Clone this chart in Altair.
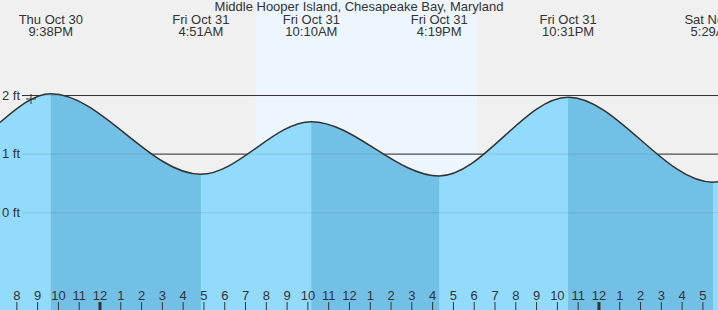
import altair as alt
import pandas as pd

title_text = "Middle Hooper Island, Chesapeake Bay, Maryland"

# tide curve points: hours since Fri Oct 31 00:00, height in ft
curve_t = [-4.81, -2.367, 4.85, 10.167, 16.317, 22.517, 29.483, 29.8]
curve_ft = [1.54, 2.03, 0.655, 1.553, 0.626, 1.97, 0.52, 0.53]

# high / low labels
ext_t = [-2.367, 4.85, 10.167, 16.317, 22.517, 29.483]
ext_day = ["Thu Oct 30", "Fri Oct 31", "Fri Oct 31", "Fri Oct 31", "Fri Oct 31", "Sat Nov 1"]
ext_time = ["9:38PM", "4:51AM", "10:10AM", "4:19PM", "10:31PM", "5:29AM"]

# falling (high -> low) periods
fall_start = [-2.367, 10.167, 22.517]
fall_end = [4.85, 16.317, 29.483]

daylight_start = [7.5]
daylight_end = [18.13]

hour_t = list(range(-4, 30))
hour_lbl = ["8", "9", "10", "11", "12", "1", "2", "3", "4", "5", "6", "7", "8", "9", "10", "11",
            "12", "1", "2", "3", "4", "5", "6", "7", "8", "9", "10", "11",
            "12", "1", "2", "3", "4", "5"]
midnights = [0, 24]

grid_ft = [0, 1, 2]
grid_lbl = ["0 ft", "1 ft", "2 ft"]
dark_grid_ft = [1, 2]

now_t = [-3.32]
now_ft = [1.94]

W, H = 718, 310
LIGHT = "#93dbfc"
DARK = "#72c0e5"
TXT = "#333333"
FONT = "Liberation Sans"
Y_BOTTOM = -1.66

xs = alt.Scale(domain=[-4.81, 29.726], nice=False, zero=False)
ys = alt.Scale(domain=[Y_BOTTOM, 3.63], nice=False, zero=False)

curve = pd.DataFrame({"t": curve_t, "ft": curve_ft})

day = alt.Chart(pd.DataFrame({"a": daylight_start, "b": daylight_end})).mark_rect(
    color="#edf6fe"
).encode(
    x=alt.X("a:Q", scale=xs, axis=None), x2="b:Q", y=alt.value(0), y2=alt.value(H)
)

dark_rules = alt.Chart(pd.DataFrame({"v": dark_grid_ft})).mark_rule(
    color=TXT, strokeWidth=1
).encode(y=alt.Y("v:Q", scale=ys, axis=None), x=alt.value(22), x2=alt.value(W))

base_area = alt.Chart(curve).mark_area(interpolate="monotone", color=LIGHT).encode(
    x=alt.X("t:Q", scale=xs, axis=None),
    y=alt.Y("ft:Q", scale=ys, axis=None, stack=None),
    y2=alt.Y2(datum=Y_BOTTOM),
)

dark_layers = []
for s, e in zip(fall_start, fall_end):
    dark_layers.append(
        alt.Chart(curve).transform_calculate(tc=f"clamp(datum.t, {s}, {e})")
        .mark_area(interpolate="monotone", color=DARK)
        .encode(
            x=alt.X("tc:Q", scale=xs, axis=None),
            y=alt.Y("ft:Q", scale=ys, axis=None, stack=None),
            y2=alt.Y2(datum=Y_BOTTOM),
        )
    )

faint_rules = alt.Chart(pd.DataFrame({"v": grid_ft})).mark_rule(
    color=TXT, strokeWidth=1, opacity=0.12
).encode(y=alt.Y("v:Q", scale=ys, axis=None), x=alt.value(22), x2=alt.value(W))

line = alt.Chart(curve).mark_line(interpolate="monotone", color=TXT, strokeWidth=1.5).encode(
    x=alt.X("t:Q", scale=xs, axis=None),
    y=alt.Y("ft:Q", scale=ys, axis=None),
)

ylabels = alt.Chart(pd.DataFrame({"v": grid_ft, "l": grid_lbl})).mark_text(
    align="left", baseline="middle", font=FONT, fontSize=13, color=TXT
).encode(y=alt.Y("v:Q", scale=ys, axis=None), x=alt.value(2), text="l:N")

hours = pd.DataFrame({"t": hour_t, "l": hour_lbl,
                      "w": [3 if h in midnights else 1 for h in hour_t]})
ticks = alt.Chart(hours).mark_rule(color=TXT).encode(
    x=alt.X("t:Q", scale=xs, axis=None), y=alt.value(302), y2=alt.value(H),
    strokeWidth=alt.StrokeWidth("w:Q", scale=None),
)
hour_text = alt.Chart(hours).mark_text(
    baseline="middle", font=FONT, fontSize=13, color=TXT
).encode(x=alt.X("t:Q", scale=xs, axis=None), y=alt.value(296), text="l:N")

ext = pd.DataFrame({"t": ext_t, "d": ext_day, "h": ext_time})
ext_day_text = alt.Chart(ext).mark_text(
    baseline="middle", font=FONT, fontSize=13, color=TXT
).encode(x=alt.X("t:Q", scale=xs, axis=None), y=alt.value(19.5), text="d:N")
ext_time_text = alt.Chart(ext).mark_text(
    baseline="middle", font=FONT, fontSize=13, color=TXT
).encode(x=alt.X("t:Q", scale=xs, axis=None), y=alt.value(32), text="h:N")

title = alt.Chart(pd.DataFrame({"l": [title_text]})).mark_text(
    baseline="middle", font=FONT, fontSize=13, color=TXT
).encode(x=alt.value(W / 2), y=alt.value(7), text="l:N")

marker = alt.Chart(pd.DataFrame({"t": now_t, "ft": now_ft})).mark_point(
    shape="M-1,0L1,0M0,-1L0,1", size=100, color=TXT, strokeWidth=1, filled=False, opacity=1
).encode(x=alt.X("t:Q", scale=xs, axis=None), y=alt.Y("ft:Q", scale=ys, axis=None))

chart = alt.layer(
    day, dark_rules, base_area, *dark_layers, faint_rules, line,
    ylabels, ticks, hour_text, ext_day_text, ext_time_text, title, marker
).properties(
    width=W, height=H, background="#f0f0f0", padding=0,
    autosize=alt.AutoSizeParams(type="none"),
).configure_view(stroke=None)

chart.save("out.html", embed_options={"renderer": "svg", "actions": False})
